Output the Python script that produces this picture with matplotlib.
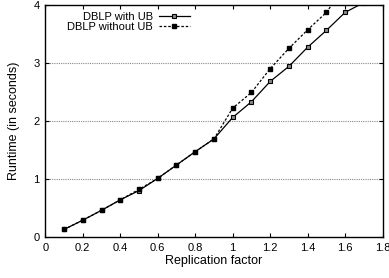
import matplotlib
matplotlib.use("Agg")
import matplotlib.pyplot as plt

x_with = [0.1, 0.2, 0.3, 0.4, 0.5, 0.6, 0.7, 0.8, 0.9, 1.0, 1.1, 1.2, 1.3, 1.4, 1.5, 1.6, 1.7]
y_with = [0.13, 0.29, 0.46, 0.64, 0.80, 1.01, 1.24, 1.47, 1.69, 2.06, 2.33, 2.68, 2.94, 3.27, 3.56, 3.87, 4.04]
x_without = [0.1, 0.2, 0.3, 0.4, 0.5, 0.6, 0.7, 0.8, 0.9, 1.0, 1.1, 1.2, 1.3, 1.4, 1.5, 1.6]
y_without = [0.13, 0.29, 0.46, 0.64, 0.82, 1.01, 1.24, 1.47, 1.69, 2.22, 2.49, 2.90, 3.25, 3.57, 3.87, 4.32]
xticks = [0, 0.2, 0.4, 0.6, 0.8, 1, 1.2, 1.4, 1.6, 1.8]
xticklabels = ["0", "0.2", "0.4", "0.6", "0.8", "1", "1.2", "1.4", "1.6", "1.8"]
yticks = [0, 1, 2, 3, 4]

plt.rcParams['font.family'] = ['Liberation Sans', 'DejaVu Sans']

fig = plt.figure(figsize=(3.89, 2.78), dpi=100)
ax = fig.add_axes([0.1165, 0.1475, 0.867, 0.835])

for yv in [1, 2, 3]:
    ax.axhline(yv, color='#888888', lw=0.8, ls=(0, (1, 1)), zorder=1)

ax.plot(x_with, y_with, color='black', lw=0.9, ls='-', marker='s', ms=3.5,
        mfc='#8a8a8a', mec='black', mew=0.8, label='DBLP with UB', zorder=3, clip_on=True)
ax.plot(x_without, y_without, color='black', lw=0.9, ls=(0, (2, 1.5)), marker='s', ms=3.5,
        mfc='black', mec='black', label='DBLP without UB', zorder=3, clip_on=True)

ax.set_xlim(0, 1.8)
ax.set_ylim(0, 4)
ax.set_xticks(xticks)
ax.set_xticklabels(xticklabels, fontsize=8)
ax.set_yticks(yticks)
ax.set_yticklabels([str(v) for v in yticks], fontsize=8)
ax.tick_params(direction='in', length=3, width=0.8, top=True, right=True, pad=4)
for s in ax.spines.values():
    s.set_linewidth(1.0)

ax.set_xlabel('Replication factor', fontsize=9, labelpad=2)
ax.set_ylabel('Runtime (in seconds)', fontsize=9, labelpad=10)

leg = ax.legend(loc='upper right', frameon=False, fontsize=8, markerfirst=False,
                handlelength=2.8, handletextpad=0.5, borderaxespad=0.0,
                labelspacing=0.05, borderpad=0.2, numpoints=1,
                bbox_to_anchor=(0.435, 0.98))
for t in leg.get_texts():
    t.set_ha('right')

fig.savefig('out.png', dpi=100)
